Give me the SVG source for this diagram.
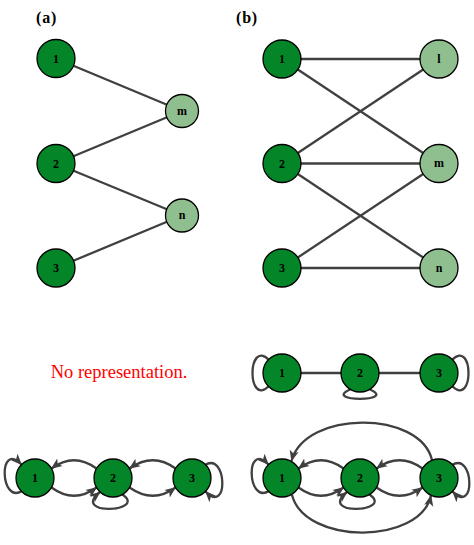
<svg xmlns="http://www.w3.org/2000/svg" width="474" height="545" viewBox="0 0 474 545">
<defs>
<style>
.bg{fill:#ffffff}
.dk{fill:#048528;stroke:#000;stroke-width:1.3}
.lt{fill:#8fbf8f;stroke:#000;stroke-width:1.3}
.lbl{font-family:"Liberation Serif",serif;font-weight:bold;font-size:12px;text-anchor:middle;fill:#000}
.cap{font-family:"Liberation Serif",serif;font-weight:bold;font-size:16px;letter-spacing:0.8px;fill:#000}
.e{fill:none;stroke:#404040;stroke-width:2.3}
.a{fill:none;stroke:#404040;stroke-width:2.3;marker-end:url(#ah)}
.note{font-family:"Liberation Serif",serif;font-size:18.5px;fill:#ff0000;text-anchor:middle}
</style>
<marker id="ah" viewBox="0 0 10 10" refX="9.5" refY="5" markerWidth="11" markerHeight="11" markerUnits="userSpaceOnUse" orient="auto">
<path d="M0,0.8 L10,5 L0,9.2 L2.5,5 z" fill="#404040"/>
</marker>
</defs>
<rect class="bg" x="0" y="0" width="474" height="545"/>
<text class="cap" x="36" y="23">(a)</text>
<text class="cap" x="236" y="23">(b)</text>
<text class="note" x="119" y="378">No representation.</text>

<g id="connectors">
<!-- panel a -->
<line class="e" x1="56" y1="58.5" x2="182" y2="111"/>
<line class="e" x1="56" y1="163.5" x2="182" y2="111"/>
<line class="e" x1="56" y1="163.5" x2="182" y2="215.5"/>
<line class="e" x1="56" y1="268" x2="182" y2="215.5"/>
<!-- panel b -->
<line class="e" x1="282" y1="59" x2="439" y2="59"/>
<line class="e" x1="282" y1="59" x2="439" y2="163.5"/>
<line class="e" x1="282" y1="163.5" x2="439" y2="59"/>
<line class="e" x1="282" y1="163.5" x2="439" y2="163.5"/>
<line class="e" x1="282" y1="163.5" x2="439" y2="268"/>
<line class="e" x1="282" y1="268" x2="439" y2="163.5"/>
<line class="e" x1="282" y1="268" x2="439" y2="268"/>
<!-- row 1 right undirected -->
<line class="e" x1="282" y1="373" x2="439" y2="373"/>
<path class="e" d="M269,386 C247,408 247,338 269,360"/>
<path class="e" d="M350,389.5 C322,402 398,402 370,389.5"/>
<path class="e" d="M452,360 C474,338 474,408 452,386"/>
<!-- bottom-left directed -->
<path class="a" d="M22,491 C0,505 -2,440 21.5,464.5"/>
<path class="a" d="M96.5,468.5 Q74,452 51.5,468.5"/>
<path class="a" d="M51.5,487.5 Q74,504 96.5,487.5"/>
<path class="a" d="M122.5,494.5 C148,512 70,516 100,492"/>
<path class="a" d="M175.5,468.5 Q153,452 129.5,468.5"/>
<path class="a" d="M129.5,487.5 Q153,504 175.5,487.5"/>
<path class="a" d="M205,465 C227,451 229,516 205.5,491.5"/>
<!-- bottom-right directed -->
<path class="a" d="M269,491 C247,505 245,440 268.5,464.5"/>
<path class="a" d="M343.5,468.5 Q321,452 298.5,468.5"/>
<path class="a" d="M298.5,487.5 Q321,504 343.5,487.5"/>
<path class="a" d="M369.5,494.5 C395,512 317,516 347,492"/>
<path class="a" d="M422.5,468.5 Q399.5,452 376.5,468.5"/>
<path class="a" d="M376.5,487.5 Q399.5,504 422.5,487.5"/>
<path class="a" d="M452,465 C474,451 476,516 452.5,491.5"/>
<path class="a" d="M432,460 C420,410 305,410 291.5,461"/>
<path class="a" d="M292,495 C305,545 420,545 431,495.5"/>
</g>

<g id="a1"><circle class="dk" cx="56" cy="58.5" r="19"/><text class="lbl" x="56" y="62.5">1</text></g>
<g id="a2"><circle class="dk" cx="56" cy="163.5" r="19"/><text class="lbl" x="56" y="167.5">2</text></g>
<g id="a3"><circle class="dk" cx="56" cy="268" r="19"/><text class="lbl" x="56" y="272">3</text></g>
<g id="am"><circle class="lt" cx="182" cy="111" r="16.5"/><text class="lbl" x="182" y="114.5">m</text></g>
<g id="an"><circle class="lt" cx="182" cy="215.5" r="16.5"/><text class="lbl" x="182" y="219">n</text></g>

<g id="b1"><circle class="dk" cx="282" cy="59" r="19"/><text class="lbl" x="282" y="63">1</text></g>
<g id="b2"><circle class="dk" cx="282" cy="163.5" r="19"/><text class="lbl" x="282" y="167.5">2</text></g>
<g id="b3"><circle class="dk" cx="282" cy="268" r="19"/><text class="lbl" x="282" y="272">3</text></g>
<g id="bl"><circle class="lt" cx="439" cy="59" r="19"/><text class="lbl" x="439" y="63">l</text></g>
<g id="bm"><circle class="lt" cx="439" cy="163.5" r="19"/><text class="lbl" x="439" y="167">m</text></g>
<g id="bn"><circle class="lt" cx="439" cy="268" r="19"/><text class="lbl" x="439" y="271.5">n</text></g>

<g id="u1"><circle class="dk" cx="282" cy="373" r="19"/><text class="lbl" x="282" y="377">1</text></g>
<g id="u2"><circle class="dk" cx="360" cy="373" r="19"/><text class="lbl" x="360" y="377">2</text></g>
<g id="u3"><circle class="dk" cx="439" cy="373" r="19"/><text class="lbl" x="439" y="377">3</text></g>

<g id="l1"><circle class="dk" cx="35" cy="478" r="19"/><text class="lbl" x="35" y="482">1</text></g>
<g id="l2"><circle class="dk" cx="113" cy="478" r="19"/><text class="lbl" x="113" y="482">2</text></g>
<g id="l3"><circle class="dk" cx="192" cy="478" r="19"/><text class="lbl" x="192" y="482">3</text></g>

<g id="r1"><circle class="dk" cx="282" cy="478" r="19"/><text class="lbl" x="282" y="482">1</text></g>
<g id="r2"><circle class="dk" cx="360" cy="478" r="19"/><text class="lbl" x="360" y="482">2</text></g>
<g id="r3"><circle class="dk" cx="439" cy="478" r="19"/><text class="lbl" x="439" y="482">3</text></g>
</svg>
